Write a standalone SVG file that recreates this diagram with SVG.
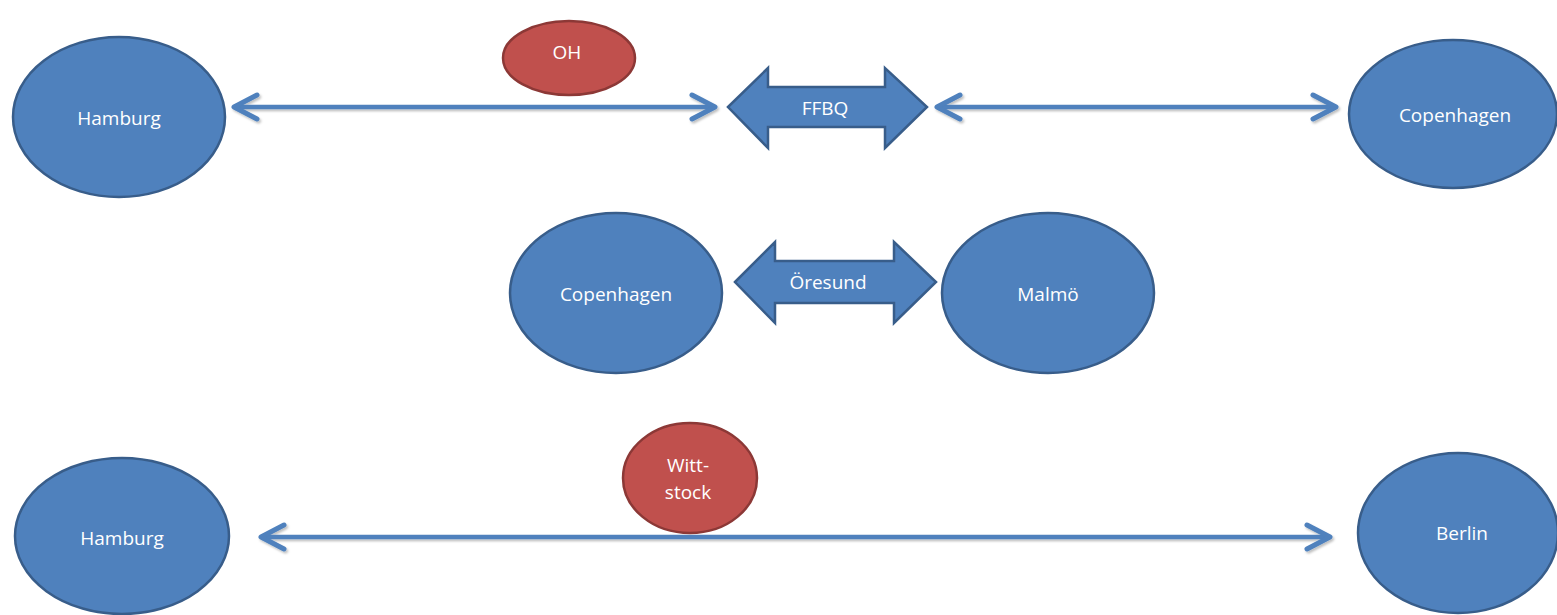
<svg xmlns="http://www.w3.org/2000/svg" width="1557" height="615" viewBox="0 0 1557 615">
<style>
.blue{fill:#4F81BD;stroke:#385D8A;stroke-width:2.5}
.red{fill:#C0504D;stroke:#8C3836;stroke-width:2.5}
.lbl{font-family:"Open Sans","Liberation Sans",sans-serif;font-size:19px;fill:#ffffff;text-anchor:middle;dominant-baseline:central}
.conn{stroke:#4F81BD;stroke-width:4.5;fill:none;filter:url(#sh)}
</style>
<defs>
<filter id="sh" filterUnits="userSpaceOnUse" x="0" y="0" width="1557" height="615">
<feDropShadow dx="1.5" dy="2" stdDeviation="1.2" flood-color="#000" flood-opacity="0.25"/>
</filter>
<marker id="arr" markerUnits="userSpaceOnUse" orient="auto-start-reverse" viewBox="-30 -16 34 32" refX="0" refY="0" markerWidth="34" markerHeight="32">
<path d="M -23 -12 L 0 0 L -23 12" fill="none" stroke="#4F81BD" stroke-width="5" stroke-linecap="round" stroke-linejoin="round"/>
</marker>
</defs>
<rect width="1557" height="615" fill="#ffffff"/>
<g id="connectors">
<line class="conn" x1="234" y1="107" x2="715" y2="107" marker-start="url(#arr)" marker-end="url(#arr)"/>
<line class="conn" x1="937" y1="107" x2="1336" y2="107" marker-start="url(#arr)" marker-end="url(#arr)"/>
<line class="conn" x1="261" y1="537" x2="1330" y2="537" marker-start="url(#arr)" marker-end="url(#arr)"/>
</g>
<g id="hamburg1"><ellipse class="blue" cx="119" cy="117" rx="106" ry="80"/><text class="lbl" x="119" y="118">Hamburg</text></g>
<g id="oh"><ellipse class="red" cx="569" cy="58" rx="66" ry="37"/><text class="lbl" x="567" y="52">OH</text></g>
<g id="ffbq"><polygon class="blue" points="728,107 768,68 768,87 885,87 885,68 927,107 885,148 885,127 768,127 768,148"/><text class="lbl" x="825" y="108">FFBQ</text></g>
<g id="copenhagen1"><ellipse class="blue" cx="1453" cy="114" rx="104" ry="74"/><text class="lbl" x="1455" y="115">Copenhagen</text></g>
<g id="copenhagen2"><ellipse class="blue" cx="616" cy="293" rx="106" ry="80"/><text class="lbl" x="616" y="294">Copenhagen</text></g>
<g id="oresund"><polygon class="blue" points="735,282 775,242 775,261 894,261 894,242 936,282 894,323 894,303 775,303 775,323"/><text class="lbl" x="828" y="282">Öresund</text></g>
<g id="malmo"><ellipse class="blue" cx="1048" cy="293" rx="106" ry="80"/><text class="lbl" x="1048" y="294">Malmö</text></g>
<g id="hamburg2"><ellipse class="blue" cx="122" cy="536" rx="107" ry="78"/><text class="lbl" x="122" y="538">Hamburg</text></g>
<g id="wittstock"><ellipse class="red" cx="690" cy="478" rx="67" ry="55"/><text class="lbl" x="688" y="465">Witt-</text><text class="lbl" x="688" y="492">stock</text></g>
<g id="berlin"><ellipse class="blue" cx="1458" cy="533" rx="100" ry="80"/><text class="lbl" x="1462" y="533">Berlin</text></g>
</svg>
